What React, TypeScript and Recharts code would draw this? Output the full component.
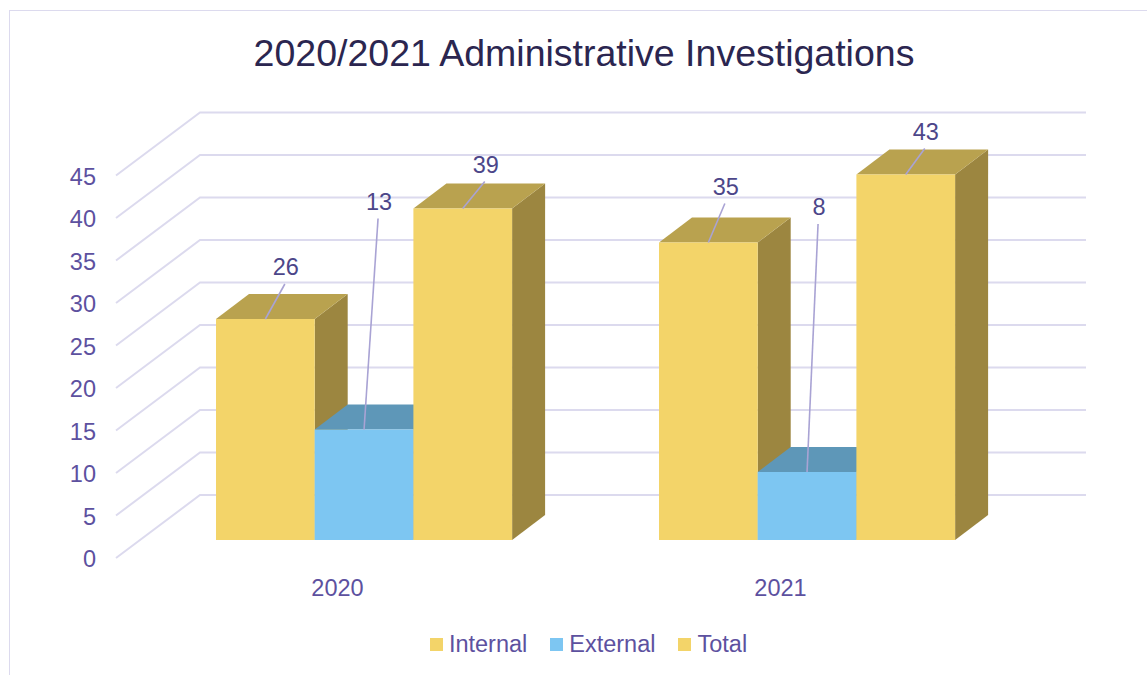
import React from 'react';
import { BarChart, Bar, XAxis, YAxis, Legend, LabelList, CartesianGrid } from 'recharts';

const years = ['2020', '2021'];
const internal = [26, 35];
const external = [13, 8];
const total = [39, 43];
const yTicks = [0, 5, 10, 15, 20, 25, 30, 35, 40, 45];

const rows = years.map((year, i) => ({ year, Internal: internal[i], External: external[i], Total: total[i] }));

const FONT = '"Liberation Sans", Arial, sans-serif';
const DEPTH_X = 33;
const DEPTH_Y = 25;
const GRID = '#dcdaee';
const AXIS_TEXT = '#5d519f';

// where each value label sits, relative to the middle of its bar's top edge
const internalNudge = [[20.5, -52], [17.5, -56]];
const externalNudge = [[15, -228], [12, -265]];
const totalNudge = [[23, -44], [20, -43]];

function box(top: string, side: string) {
  return (props: any) => {
    const { x, y, width, height, fill } = props;
    return (
      <g>
        <polygon
          points={`${x + width},${y} ${x + width + DEPTH_X},${y - DEPTH_Y} ${x + width + DEPTH_X},${y + height - DEPTH_Y} ${x + width},${y + height}`}
          fill={side}
        />
        <polygon
          points={`${x},${y} ${x + DEPTH_X},${y - DEPTH_Y} ${x + width + DEPTH_X},${y - DEPTH_Y} ${x + width},${y}`}
          fill={top}
        />
        <rect x={x} y={y} width={width} height={height} fill={fill} />
      </g>
    );
  };
}

function leaderLabel(nudge: number[][]) {
  return (props: any) => {
    const { x, y, width, value, index } = props;
    const [dx, dy] = nudge[index];
    const cx = x + width / 2;
    return (
      <g>
        <line x1={cx} y1={y} x2={cx + dx - 1} y2={y + dy + 17} stroke="#a9a3d4" strokeWidth={1.6} />
        <text x={cx + dx} y={y + dy} textAnchor="middle" dominantBaseline="central" fontFamily={FONT} fontSize={23.5} fill="#4c4689">
          {value}
        </text>
      </g>
    );
  };
}

// back wall line plus the diagonal down the side wall
function GridLine(props: any) {
  const y = props.y1;
  const backY = y - 45;
  return <polyline key={props.key} points={`116,${y + 18} 200,${backY} 1086,${backY}`} fill="none" stroke={GRID} strokeWidth={2} />;
}

function YTick(props: any) {
  const { y, payload } = props;
  return (
    <text x={96} y={y + 19} textAnchor="end" dominantBaseline="central" fontFamily={FONT} fontSize={23.5} fill={AXIS_TEXT}>
      {payload.value}
    </text>
  );
}

function XTick(props: any) {
  const { x, payload } = props;
  return (
    <text x={x - 27} y={587.5} textAnchor="middle" dominantBaseline="central" fontFamily={FONT} fontSize={23.5} fill={AXIS_TEXT}>
      {payload.value}
    </text>
  );
}

function LegendRow(props: any) {
  return (
    <div style={{ display: 'flex', justifyContent: 'center', gap: 23, fontFamily: FONT, fontSize: 23.5, color: AXIS_TEXT, lineHeight: '28px' }}>
      {props.payload.map((item: any) => (
        <div key={item.value} style={{ display: 'flex', alignItems: 'center', gap: 6 }}>
          <span style={{ width: 13, height: 13, background: item.color, display: 'block' }} />
          <span>{item.value}</span>
        </div>
      ))}
    </div>
  );
}

export default function App() {
  return (
    <div style={{ position: 'absolute', left: 0, top: 0, width: 1147, height: 675, overflow: 'hidden', background: '#fff' }}>
      <div style={{ position: 'absolute', left: 9, top: 10, width: 1200, height: 800, border: `1.5px solid ${GRID}` }} />
      <BarChart
        width={1147}
        height={675}
        data={rows}
        barSize={98.7}
        barGap={0}
        margin={{ top: 157.5, right: 118, bottom: 106, left: 142 }}
        style={{ position: 'absolute', left: 0, top: 0 }}
      >
        <text x={584} y={53} textAnchor="middle" dominantBaseline="central" fontFamily={FONT} fontSize={37.5} fill="#2b2650">
          2020/2021 Administrative Investigations
        </text>
        <CartesianGrid vertical={false} horizontal={GridLine} />
        <YAxis width={1} domain={[0, 45]} ticks={yTicks} interval={0} axisLine={false} tickLine={false} tick={YTick} />
        <XAxis dataKey="year" height={1} axisLine={false} tickLine={false} tick={XTick} />
        <Legend
          content={LegendRow}
          itemSorter={null}
          wrapperStyle={{ left: 15, top: 630, width: 1147, bottom: 'auto' }}
        />
        <Bar dataKey="Internal" fill="#f3d469" shape={box('#b9a24f', '#9c8640')} isAnimationActive={false}>
          <LabelList content={leaderLabel(internalNudge)} />
        </Bar>
        <Bar dataKey="External" fill="#7dc6f2" shape={box('#5e97b8', '#4f87a8')} isAnimationActive={false}>
          <LabelList content={leaderLabel(externalNudge)} />
        </Bar>
        <Bar dataKey="Total" fill="#f3d469" shape={box('#b9a24f', '#9c8640')} isAnimationActive={false}>
          <LabelList content={leaderLabel(totalNudge)} />
        </Bar>
      </BarChart>
    </div>
  );
}
